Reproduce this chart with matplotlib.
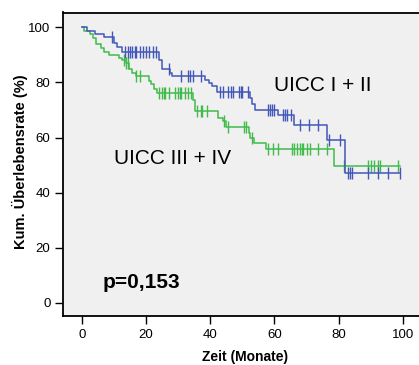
import numpy as np
import matplotlib
matplotlib.use("Agg")
import matplotlib.pyplot as plt

plt.rcParams['font.family'] = ['Liberation Sans', 'DejaVu Sans']

# UICC I + II : step times (months) and survival (%) after each step
blue_t = [0, 1.5, 4, 7, 10, 11, 12.5, 24, 25, 27.5, 28, 38.5, 39.5, 40.5, 42,
          52.5, 53, 54, 61, 66, 76.5, 82]
blue_s = [100, 98.8, 97.5, 96.5, 94.5, 93, 91, 88, 85, 83.5, 82.2, 81, 79.8, 78.6, 76.5,
          74.3, 72, 70, 68.2, 64.6, 59, 47.3]
blue_end = 99.2
blue_cens = [9.3, 13.5, 14.5, 15, 15.5, 16.5, 17, 18, 19, 20, 21, 22, 23, 27, 30.8,
             33, 33.8, 34.5, 37, 43, 44, 45.5, 46.5, 47, 49, 49.5, 50, 51.6,
             58, 58.7, 59.3, 60, 62.5, 63.2, 64, 65, 68, 70.6, 73.7, 77, 80.5,
             83, 83.6, 84.3, 89, 92.4, 95.5, 99]

# UICC III + IV
green_t = [0, 0.5, 2.5, 3.5, 4.3, 5.8, 6.8, 8.4, 11.5, 12.5, 13.6, 14.6, 15.5, 17,
           20.8, 21.5, 22.5, 23.5, 34.5, 35.2, 42.5, 44, 45, 52, 52.5, 53.5, 57.5, 78.5]
green_s = [100, 98.6, 97.5, 96, 93.8, 92.5, 91, 90, 89, 88, 87, 85, 83.4, 82.5,
           80.5, 79.5, 77.5, 76.2, 73.5, 69.5, 67, 66, 64, 61.6, 59.7, 58, 56, 49.5]
green_end = 99
green_cens = [13.2, 13.8, 14.3, 17, 18, 24, 25, 25.5, 26, 27, 29, 30, 30.5, 31,
              32, 33, 34, 36, 37, 37.5, 39, 44.2, 45.5, 50.5, 51, 53, 58, 59.5,
              61, 65.5, 66.2, 67, 67.8, 68.5, 69, 70, 71, 73.5, 76.5, 81.8, 89,
              90, 91, 92.4, 93, 98.6]

blue_col = '#4257b8'
green_col = '#40bb4c'


def km_plot(ax, t, s, end, cens, col):
    x = list(t) + [end]
    y = list(s) + [s[-1]]
    ax.step(x, y, where='post', color=col, lw=1.1)
    idx = np.searchsorted(t, cens, side='right') - 1
    cy = [s[i] for i in idx]
    ax.plot(cens, cy, ls='none', marker='|', ms=8, mew=1.0, color=col)


fig = plt.figure(figsize=(4.19, 3.65), dpi=100)
ax = fig.add_axes([63 / 419, 1 - 316 / 365, 371.0 / 419, 303.5 / 365])
ax.set_facecolor('#f0f0f0')

km_plot(ax, green_t, green_s, green_end, green_cens, green_col)
km_plot(ax, blue_t, blue_s, blue_end, blue_cens, blue_col)

ax.set_xlim(-5.9, 109.7)
ax.set_ylim(-4.8, 105.4)
ax.set_xticks([0, 20, 40, 60, 80, 100])
ax.set_yticks([0, 20, 40, 60, 80, 100])
ax.tick_params(direction='out', length=6, width=1, labelsize=9.5, pad=3)
for sp in ['left', 'bottom', 'top']:
    ax.spines[sp].set_linewidth(1.3)
ax.spines['right'].set_visible(False)

fig.text(245 / 419, 1 - 357 / 365, 'Zeit (Monate)', fontsize=10, fontweight='bold',
         ha='center', va='center')
fig.text(20 / 419, 1 - 162 / 365, 'Kum. Überlebensrate (%)', fontsize=10.5,
         fontweight='bold', rotation=90, ha='center', va='center')

ax.text(59.7, 79, 'UICC I + II', fontsize=15, ha='left', va='center')
ax.text(10, 52.5, 'UICC III + IV', fontsize=15, ha='left', va='center')
ax.text(6.5, 7.5, 'p=0,153', fontsize=15, fontweight='bold', ha='left', va='center')

fig.savefig('out.png', dpi=100)
